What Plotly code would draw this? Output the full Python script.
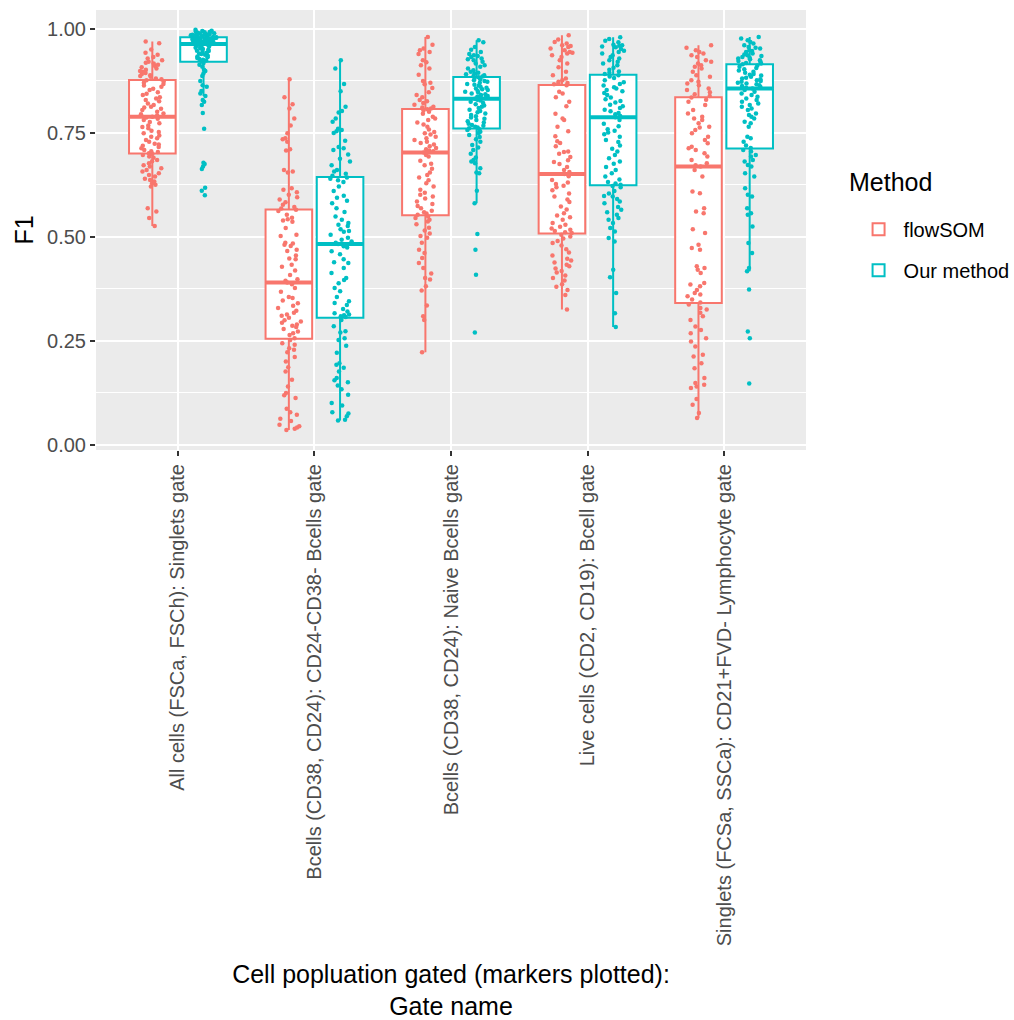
import numpy as np
import plotly.graph_objects as go

# ---------------- data ----------------
gates = [
    "All cells (FSCa, FSCh): Singlets gate",
    "Bcells (CD38, CD24): CD24-CD38- Bcells gate",
    "Bcells (CD38, CD24): Naive Bcells gate",
    "Live cells (CD2, CD19): Bcell gate",
    "Singlets (FCSa, SSCa): CD21+FVD- Lymphocyte gate",
]
methods = ["flowSOM", "Our method"]

# F1 scores, flowSOM
flowsom_singlets = [
    0.699, 0.697, 0.693, 0.690, 0.685, 0.682, 0.677, 0.672, 0.669, 0.665, 0.661, 0.657, 0.653,
    0.649, 0.645, 0.640, 0.637, 0.633, 0.629, 0.625, 0.621, 0.569, 0.561, 0.545, 0.526,
    0.701,
    0.704, 0.706, 0.709, 0.713, 0.716, 0.719, 0.722, 0.724, 0.729, 0.733, 0.737, 0.741,
    0.744, 0.749, 0.752, 0.755, 0.761, 0.764, 0.768, 0.773, 0.776, 0.781, 0.784, 0.787,
    0.789,
    0.792, 0.795, 0.797, 0.801, 0.805, 0.808, 0.811, 0.813, 0.817, 0.821, 0.826, 0.829,
    0.833, 0.836, 0.841, 0.844, 0.848, 0.853, 0.856, 0.861, 0.864, 0.868, 0.871, 0.874,
    0.877,
    0.879, 0.881, 0.885, 0.887, 0.889, 0.892, 0.894, 0.897, 0.899, 0.902, 0.905, 0.908, 0.911,
    0.914, 0.917, 0.919, 0.921, 0.925, 0.929, 0.933, 0.938, 0.943, 0.951, 0.966, 0.970,
]
flowsom_cd24cd38 = [
    0.252, 0.244, 0.240, 0.232, 0.228, 0.222, 0.211, 0.200, 0.186, 0.176, 0.156, 0.140, 0.124,
    0.119, 0.112, 0.086, 0.078, 0.072, 0.062, 0.057, 0.048, 0.044, 0.041, 0.038, 0.035,
    0.256,
    0.386, 0.377, 0.368, 0.355, 0.353, 0.347, 0.340, 0.334, 0.329, 0.322, 0.317, 0.313,
    0.310, 0.305, 0.299, 0.296, 0.293, 0.289, 0.286, 0.283, 0.278, 0.272, 0.268, 0.264,
    0.390,
    0.562, 0.553, 0.546, 0.542, 0.539, 0.536, 0.521, 0.505, 0.502, 0.486, 0.484, 0.481,
    0.478, 0.469, 0.466, 0.455, 0.448, 0.446, 0.433, 0.428, 0.419, 0.408, 0.398, 0.394,
    0.565,
    0.879, 0.836, 0.819, 0.809, 0.785, 0.768, 0.749, 0.737, 0.735, 0.729, 0.711, 0.708, 0.661,
    0.657, 0.655, 0.617, 0.613, 0.607, 0.601, 0.595, 0.590, 0.583, 0.577, 0.572, 0.568,
]
flowsom_naive = [
    0.549, 0.545, 0.541, 0.537, 0.530, 0.522, 0.515, 0.508, 0.502, 0.498, 0.486, 0.469, 0.461,
    0.449, 0.437, 0.425, 0.412, 0.401, 0.397, 0.381, 0.371, 0.335, 0.309, 0.300, 0.222,
    0.553,
    0.697, 0.693, 0.683, 0.676, 0.672, 0.664, 0.655, 0.649, 0.643, 0.636, 0.629, 0.621,
    0.613, 0.606, 0.601, 0.597, 0.592, 0.585, 0.579, 0.574, 0.569, 0.563, 0.559, 0.556,
    0.703,
    0.804, 0.801, 0.796, 0.789, 0.785, 0.781, 0.775, 0.770, 0.765, 0.758, 0.752, 0.749,
    0.746, 0.741, 0.737, 0.733, 0.729, 0.726, 0.722, 0.718, 0.714, 0.711, 0.708, 0.706,
    0.807,
    0.981, 0.962, 0.953, 0.949, 0.945, 0.940, 0.925, 0.920, 0.913, 0.905, 0.890, 0.875, 0.871,
    0.867, 0.858, 0.848, 0.841, 0.836, 0.829, 0.826, 0.822, 0.818, 0.813, 0.811, 0.809,
]
flowsom_bcell = [
    0.505, 0.501, 0.496, 0.490, 0.485, 0.479, 0.470, 0.462, 0.455, 0.447, 0.443, 0.438, 0.433,
    0.429, 0.424, 0.418, 0.414, 0.407, 0.401, 0.395, 0.386, 0.380, 0.372, 0.360, 0.325,
    0.509,
    0.646, 0.637, 0.631, 0.627, 0.623, 0.619, 0.612, 0.604, 0.597, 0.590, 0.584, 0.573,
    0.566, 0.557, 0.551, 0.547, 0.541, 0.533, 0.529, 0.524, 0.520, 0.517, 0.514, 0.511,
    0.651,
    0.849, 0.845, 0.836, 0.825, 0.814, 0.796, 0.785, 0.781, 0.765, 0.754, 0.742, 0.730,
    0.726, 0.718, 0.705, 0.704, 0.700, 0.692, 0.684, 0.680, 0.675, 0.668, 0.661, 0.656,
    0.865,
    0.985, 0.975, 0.969, 0.965, 0.961, 0.959, 0.957, 0.953, 0.949, 0.945, 0.943, 0.941, 0.937,
    0.933, 0.925, 0.917, 0.908, 0.897, 0.889, 0.881, 0.877, 0.873, 0.870, 0.869, 0.867,
]
flowsom_lymph = [
    0.337, 0.329, 0.325, 0.317, 0.309, 0.300, 0.284, 0.276, 0.268, 0.256, 0.248, 0.236, 0.216,
    0.212, 0.196, 0.184, 0.160, 0.148, 0.144, 0.140, 0.136, 0.110, 0.096, 0.076, 0.064,
    0.342,
    0.661, 0.645, 0.609, 0.605, 0.569, 0.561, 0.557, 0.518, 0.509, 0.481, 0.473, 0.469,
    0.429, 0.425, 0.421, 0.413, 0.389, 0.385, 0.381, 0.372, 0.365, 0.361, 0.357, 0.349,
    0.669,
    0.830, 0.825, 0.817, 0.805, 0.797, 0.789, 0.785, 0.781, 0.773, 0.765, 0.763, 0.757,
    0.749, 0.741, 0.733, 0.725, 0.717, 0.713, 0.709, 0.701, 0.693, 0.685, 0.677, 0.672,
    0.835,
    0.961, 0.955, 0.949, 0.945, 0.941, 0.937, 0.933, 0.925, 0.921, 0.917, 0.913, 0.909, 0.905,
    0.897, 0.889, 0.885, 0.877, 0.873, 0.869, 0.865, 0.857, 0.853, 0.848, 0.843, 0.839,
]

# F1 scores, our method
ours_singlets = [
    0.918, 0.914, 0.909, 0.902, 0.899, 0.893, 0.887, 0.875, 0.865, 0.861, 0.851, 0.845, 0.839,
    0.829, 0.825, 0.817, 0.798, 0.760, 0.678, 0.675, 0.669, 0.663, 0.618, 0.611, 0.600,
    0.922,
    0.924, 0.926, 0.928, 0.930, 0.932, 0.934, 0.936, 0.938, 0.940, 0.941, 0.943, 0.945,
    0.947, 0.948, 0.950, 0.952, 0.953, 0.955, 0.956, 0.958, 0.959, 0.960, 0.962, 0.963,
    0.964,
    0.965, 0.965, 0.966, 0.967, 0.968, 0.968, 0.969, 0.970, 0.971, 0.971, 0.972, 0.973,
    0.973, 0.974, 0.975, 0.975, 0.976, 0.977, 0.977, 0.978, 0.978, 0.979, 0.979, 0.980,
    0.980,
    0.981, 0.981, 0.982, 0.982, 0.983, 0.983, 0.984, 0.984, 0.985, 0.985, 0.986, 0.986, 0.987,
    0.988, 0.988, 0.989, 0.989, 0.990, 0.991, 0.992, 0.993, 0.994, 0.995, 0.996, 0.998,
]
ours_cd24cd38 = [
    0.300, 0.285, 0.273, 0.270, 0.256, 0.252, 0.238, 0.221, 0.196, 0.192, 0.185, 0.176, 0.160,
    0.155, 0.150, 0.142, 0.133, 0.120, 0.100, 0.094, 0.078, 0.075, 0.068, 0.060, 0.058,
    0.307,
    0.477, 0.474, 0.465, 0.458, 0.446, 0.439, 0.437, 0.425, 0.413, 0.401, 0.396, 0.388,
    0.377, 0.369, 0.355, 0.345, 0.341, 0.336, 0.326, 0.320, 0.316, 0.313, 0.311, 0.309,
    0.483,
    0.640, 0.636, 0.632, 0.621, 0.610, 0.599, 0.594, 0.587, 0.581, 0.569, 0.560, 0.549,
    0.541, 0.533, 0.529, 0.526, 0.518, 0.514, 0.512, 0.505, 0.498, 0.493, 0.489, 0.486,
    0.643,
    0.925, 0.905, 0.868, 0.850, 0.813, 0.803, 0.799, 0.785, 0.777, 0.760, 0.757, 0.754, 0.750,
    0.731, 0.716, 0.713, 0.709, 0.698, 0.688, 0.681, 0.672, 0.661, 0.657, 0.652, 0.647,
]
ours_naive = [
    0.759, 0.757, 0.753, 0.750, 0.745, 0.740, 0.735, 0.729, 0.721, 0.715, 0.709, 0.700, 0.691,
    0.685, 0.681, 0.677, 0.665, 0.655, 0.653, 0.611, 0.581, 0.507, 0.469, 0.409, 0.270,
    0.761,
    0.830, 0.828, 0.825, 0.822, 0.819, 0.816, 0.813, 0.810, 0.806, 0.803, 0.800, 0.797,
    0.793, 0.790, 0.787, 0.784, 0.781, 0.778, 0.775, 0.772, 0.769, 0.767, 0.765, 0.763,
    0.832,
    0.882, 0.879, 0.877, 0.875, 0.873, 0.871, 0.868, 0.866, 0.864, 0.861, 0.859, 0.857,
    0.855, 0.853, 0.851, 0.849, 0.847, 0.845, 0.843, 0.841, 0.839, 0.837, 0.835, 0.834,
    0.884,
    0.973, 0.968, 0.957, 0.950, 0.945, 0.940, 0.937, 0.935, 0.933, 0.929, 0.927, 0.925, 0.921,
    0.917, 0.913, 0.909, 0.905, 0.901, 0.897, 0.895, 0.893, 0.891, 0.889, 0.887, 0.886,
]
ours_bcell = [
    0.622, 0.619, 0.610, 0.604, 0.598, 0.597, 0.591, 0.585, 0.581, 0.572, 0.565, 0.559, 0.553,
    0.545, 0.541, 0.533, 0.521, 0.513, 0.497, 0.489, 0.421, 0.403, 0.365, 0.316, 0.283,
    0.625,
    0.781, 0.772, 0.766, 0.759, 0.755, 0.751, 0.747, 0.741, 0.733, 0.728, 0.720, 0.712,
    0.705, 0.697, 0.689, 0.681, 0.676, 0.668, 0.661, 0.653, 0.645, 0.638, 0.632, 0.628,
    0.788,
    0.886, 0.882, 0.877, 0.872, 0.868, 0.864, 0.860, 0.857, 0.853, 0.850, 0.846, 0.841,
    0.835, 0.831, 0.827, 0.823, 0.818, 0.814, 0.810, 0.806, 0.802, 0.798, 0.795, 0.791,
    0.889,
    0.980, 0.976, 0.972, 0.968, 0.962, 0.961, 0.960, 0.958, 0.956, 0.952, 0.948, 0.945, 0.941,
    0.937, 0.933, 0.929, 0.925, 0.921, 0.917, 0.913, 0.907, 0.902, 0.898, 0.895, 0.892,
]
ours_lymph = [
    0.709, 0.705, 0.697, 0.693, 0.685, 0.681, 0.673, 0.669, 0.653, 0.645, 0.617, 0.601, 0.597,
    0.569, 0.557, 0.553, 0.525, 0.485, 0.461, 0.425, 0.417, 0.373, 0.272, 0.256, 0.147,
    0.714,
    0.853, 0.849, 0.845, 0.841, 0.837, 0.833, 0.829, 0.825, 0.821, 0.817, 0.813, 0.809,
    0.805, 0.797, 0.793, 0.789, 0.785, 0.777, 0.773, 0.765, 0.741, 0.737, 0.729, 0.720,
    0.857,
    0.912, 0.909, 0.906, 0.903, 0.900, 0.897, 0.895, 0.892, 0.890, 0.888, 0.885, 0.883,
    0.881, 0.879, 0.877, 0.875, 0.873, 0.871, 0.869, 0.867, 0.865, 0.863, 0.861, 0.859,
    0.915,
    0.981, 0.977, 0.973, 0.969, 0.965, 0.961, 0.957, 0.955, 0.953, 0.949, 0.947, 0.945, 0.941,
    0.939, 0.937, 0.935, 0.933, 0.931, 0.929, 0.927, 0.925, 0.923, 0.920, 0.918, 0.917,
]

y_tickvals = [0.0, 0.25, 0.50, 0.75, 1.00]
y_ticktext = ["0.00", "0.25", "0.50", "0.75", "1.00"]

flowsom_values = [flowsom_singlets, flowsom_cd24cd38, flowsom_naive, flowsom_bcell, flowsom_lymph]
ours_values = [ours_singlets, ours_cd24cd38, ours_naive, ours_bcell, ours_lymph]

# ---------------- styling ----------------
COLORS = ["#F8766D", "#00BFC4"]
FONT = "Liberation Sans, Arial, Helvetica, sans-serif"
BOXGAP = 0.25
BOXGROUPGAP = 0.09

fig = go.Figure()
for j, (name, groups) in enumerate(zip(methods, [flowsom_values, ours_values])):
    xs, ys = [], []
    for g, vals in zip(gates, groups):
        xs += [g] * len(vals)
        ys += list(vals)
    fig.add_trace(go.Box(
        x=xs, y=ys, name=name, legendgroup=name,
        boxpoints="all", jitter=0.55, pointpos=0,
        fillcolor="white", whiskerwidth=0,
        line=dict(color=COLORS[j], width=2),
        marker=dict(color=COLORS[j], size=4.5, line=dict(width=0)),
        hoverinfo="y",
    ))

# thicker median bars (ggplot style), drawn at each box's dodged position
slot = (1 - BOXGAP) / 2
half_w = slot * (1 - BOXGROUPGAP) / 2
for j, groups in enumerate([flowsom_values, ours_values]):
    off = -slot / 2 + j * slot
    for i, vals in enumerate(groups):
        m = float(np.median(vals))
        fig.add_shape(type="line", xref="x", yref="y",
                      x0=i + off - half_w, x1=i + off + half_w, y0=m, y1=m,
                      line=dict(color=COLORS[j], width=4), layer="above")

fig.update_layout(
    width=1014, height=1020, autosize=False,
    margin=dict(l=96, r=208, t=10, b=570, pad=0, autoexpand=False),
    paper_bgcolor="white", plot_bgcolor="#EBEBEB",
    boxmode="group", boxgap=BOXGAP, boxgroupgap=BOXGROUPGAP,
    font=dict(family=FONT, color="black"),
    showlegend=True,
    legend=dict(
        font=dict(size=20, family=FONT),
        x=1.067, xanchor="left", y=0.546, yanchor="top",
        tracegroupgap=12, traceorder="grouped", itemwidth=40,
        bgcolor="rgba(0,0,0,0)",
    ),
    annotations=[dict(
        text="Method", xref="paper", yref="paper", x=1.058, y=0.608,
        xanchor="left", yanchor="middle", showarrow=False,
        font=dict(size=25, family=FONT, color="black"),
    )],
)

fig.update_xaxes(
    type="category", categoryorder="array", categoryarray=gates,
    range=[-0.6, 4.6],
    tickangle=-90, tickfont=dict(size=20, color="#4D4D4D", family=FONT),
    ticks="outside", ticklen=5, tickwidth=1.5, tickcolor="#333333",
    showgrid=True, gridcolor="white", gridwidth=2,
    zeroline=False, showline=False, automargin=False,
    title=dict(text="Cell popluation gated (markers plotted):<br>Gate name",
               font=dict(size=25, family=FONT, color="black"), standoff=24),
)
fig.update_yaxes(
    range=[-0.013, 1.0458],
    tickvals=y_tickvals, ticktext=y_ticktext,
    tickfont=dict(size=20, color="#4D4D4D", family=FONT),
    ticks="outside", ticklen=5, tickwidth=1.5, tickcolor="#333333",
    showgrid=True, gridcolor="white", gridwidth=2,
    minor=dict(tickvals=[0.125, 0.375, 0.625, 0.875], showgrid=True,
               gridcolor="white", gridwidth=1, ticks=""),
    zeroline=False, showline=False, automargin=False,
    title=dict(text="F1", font=dict(size=25, family=FONT, color="black"), standoff=6),
)

fig.write_html("out.html")
